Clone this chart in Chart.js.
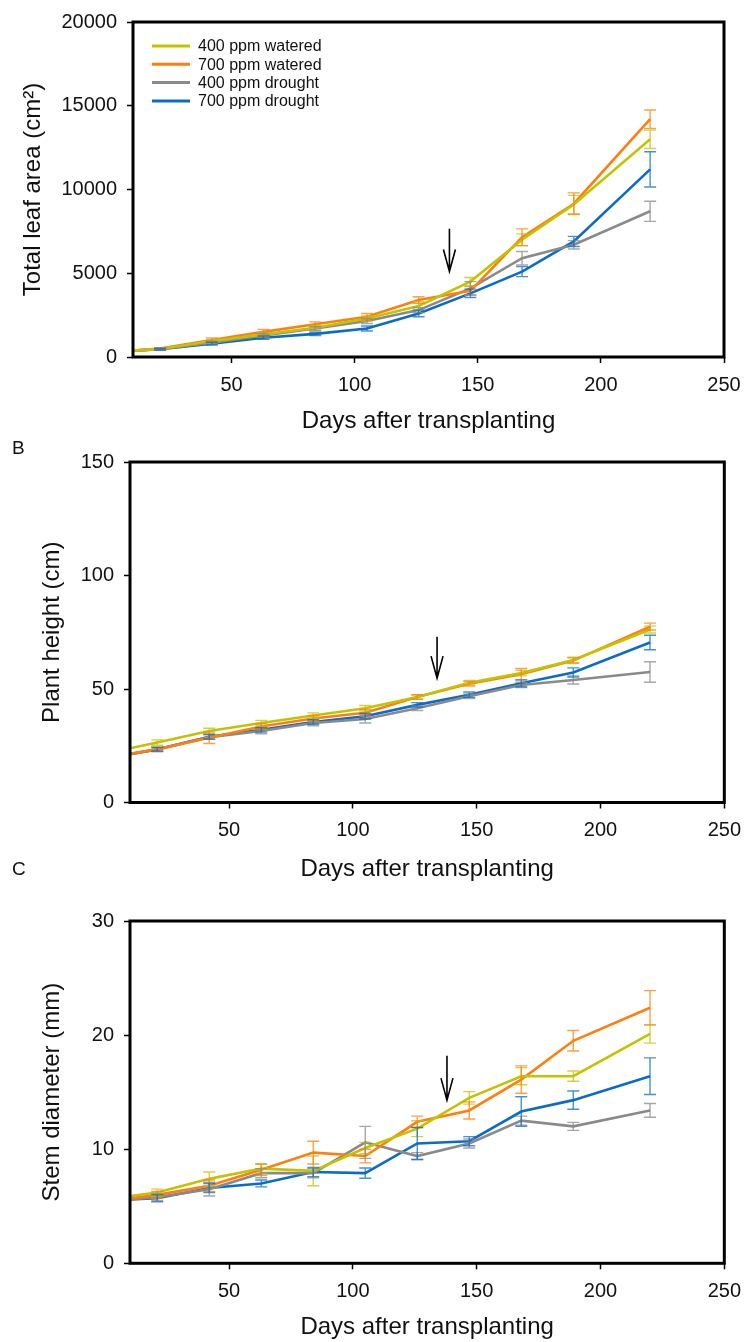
<!DOCTYPE html>
<html>
<head>
<meta charset="utf-8">
<script src="https://cdn.jsdelivr.net/npm/chart.js@4.4.0/dist/chart.umd.min.js"></script>
<style>
  html, body { margin: 0; padding: 0; background: #fff; }
  body { width: 751px; height: 1342px; position: relative; overflow: hidden;
         font-family: "Liberation Sans", Arial, sans-serif; }
  canvas { position: absolute; left: 0; }
  .tag { position: absolute; left: 12px; font-size: 19px; line-height: 1; color: #111; }
</style>
</head>
<body>
<canvas id="cA" width="751" height="440" style="top:0px"></canvas>
<canvas id="cB" width="751" height="448" style="top:440px"></canvas>
<canvas id="cC" width="751" height="462" style="top:880px"></canvas>
<div class="tag" style="top:438px">B</div>
<div class="tag" style="top:859px">C</div>

<script>
// Sampling days after transplanting
const days = [10, 21, 42, 63, 84, 105, 126, 147, 168, 189, 220];
const seriesNames = ['400 ppm watered', '700 ppm watered', '400 ppm drought', '700 ppm drought'];
const seriesColors = ['#c3c300', '#ff7f0e', '#8a8a8a', '#0a6cc8'];
const xTicks = [50, 100, 150, 200, 250];

// A: total leaf area (cm2), means and SE
const leaf400w = [380, 480, 950, 1350, 1750, 2300, 3050, 4500, 7000, 9100, 13000];
const leaf700w = [380, 500, 1020, 1500, 1950, 2400, 3400, 3950, 7150, 9150, 14200];
const leaf400d = [380, 470, 850, 1280, 1700, 2150, 2800, 4100, 5900, 6700, 8700];
const leaf700d = [380, 460, 800, 1150, 1380, 1700, 2600, 3800, 5100, 6900, 11200];
const leafErr400w = [0, 60, 100, 120, 150, 150, 250, 250, 350, 550, 550];
const leafErr700w = [0, 60, 120, 150, 150, 200, 200, 250, 500, 650, 550];
const leafErr400d = [0, 50, 100, 120, 120, 150, 150, 400, 400, 250, 600];
const leafErr700d = [0, 50, 80, 100, 100, 150, 200, 250, 300, 300, 1050];
const leafTicks = [0, 5000, 10000, 15000, 20000];

// B: plant height (cm)
const height400w = [23.9, 26.4, 31.5, 35.0, 38.3, 41.5, 46.5, 52.8, 57.0, 62.8, 76.2];
const height700w = [21.5, 23.5, 28.5, 33.5, 37.0, 39.5, 46.5, 52.3, 56.5, 62.5, 77.5];
const height400d = [21.3, 23.3, 28.8, 31.5, 35.0, 36.8, 41.5, 46.8, 51.8, 54.0, 57.5];
const height700d = [21.3, 23.5, 29.0, 32.0, 35.5, 38.0, 43.0, 47.5, 52.5, 57.3, 70.5];
const heightErr400w = [0, 1.2, 1.2, 1.2, 1.2, 1.2, 1.0, 1.0, 1.2, 1.2, 1.5];
const heightErr700w = [0, 1.0, 2.5, 1.2, 1.2, 1.5, 1.0, 1.0, 2.5, 1.2, 1.5];
const heightErr400d = [0, 0.8, 1.0, 1.2, 1.2, 1.8, 1.0, 1.0, 1.2, 1.8, 4.5];
const heightErr700d = [0, 0.8, 1.0, 1.0, 1.0, 1.2, 1.0, 1.2, 1.5, 2.0, 3.2];
const heightTicks = [0, 50, 100, 150];

// C: stem diameter (mm)
const stem400w = [5.9, 6.2, 7.4, 8.3, 8.1, 10.1, 11.8, 14.5, 16.4, 16.4, 20.1];
const stem700w = [5.7, 6.0, 6.8, 8.2, 9.7, 9.4, 12.4, 13.4, 16.1, 19.5, 22.4];
const stem400d = [5.6, 5.8, 6.5, 7.9, 7.9, 10.6, 9.4, 10.5, 12.5, 12.0, 13.4];
const stem700d = [5.6, 5.7, 6.6, 7.0, 8.0, 7.9, 10.5, 10.7, 13.3, 14.3, 16.4];
const stemErr400w = [0, 0.3, 0.6, 0.4, 1.3, 0.5, 0.7, 0.55, 0.75, 0.45, 0.8];
const stemErr700w = [0, 0.3, 0.5, 0.5, 1.0, 0.6, 0.5, 0.75, 1.2, 0.9, 1.5];
const stemErr400d = [0, 0.3, 0.6, 0.4, 0.4, 1.4, 0.3, 0.4, 0.4, 0.35, 0.6];
const stemErr700d = [0, 0.3, 0.4, 0.3, 0.4, 0.45, 1.4, 0.4, 1.3, 0.8, 1.6];
const stemTicks = [0, 10, 20, 30];

// Start of drought treatment marked by an arrow: [day, from, to]
const arrowLeaf = [138.5, 7650, 5100];
const arrowHeight = [134, 73, 54.8];
const arrowStem = [138, 18.2, 14.3];

const FONT = '"Liberation Sans", Arial, sans-serif';
const INK = '#111';

// Black frame around the plotting area
const frame = {
  id: 'frame',
  afterDraw(chart) {
    const a = chart.chartArea, c = chart.ctx;
    c.save();
    c.strokeStyle = '#000';
    c.lineWidth = 3;
    c.strokeRect(a.left, a.top, a.right - a.left, a.bottom - a.top);
    c.restore();
  }
};

// Standard-error bars with caps
const errorBars = {
  id: 'errorBars',
  afterDatasetsDraw(chart) {
    const { ctx, chartArea: a, scales: { x, y } } = chart;
    ctx.save();
    ctx.beginPath();
    ctx.rect(a.left + 2, a.top, a.right - a.left - 2, a.bottom - a.top);
    ctx.clip();
    chart.data.datasets.forEach(ds => {
      ctx.strokeStyle = ds.borderColor;
      ctx.globalAlpha = 0.75;
      ctx.lineWidth = 1.4;
      ds.data.forEach((p, j) => {
        const e = ds.err[j];
        if (!e) return;
        const px = x.getPixelForValue(p.x);
        const t = y.getPixelForValue(p.y + e);
        const b = y.getPixelForValue(p.y - e);
        ctx.beginPath();
        ctx.moveTo(px, t); ctx.lineTo(px, b);
        ctx.moveTo(px - 6, t); ctx.lineTo(px + 6, t);
        ctx.moveTo(px - 6, b); ctx.lineTo(px + 6, b);
        ctx.stroke();
      });
    });
    ctx.restore();
  }
};

// Downward arrow marking the onset of drought
const arrowMark = {
  id: 'arrowMark',
  afterDraw(chart, args, opts) {
    const { ctx, scales: { x, y } } = chart;
    const [day, from, to] = opts.at;
    const px = x.getPixelForValue(day);
    const y0 = y.getPixelForValue(from);
    const y1 = y.getPixelForValue(to);
    ctx.save();
    ctx.strokeStyle = '#000';
    ctx.lineWidth = 1.6;
    ctx.beginPath();
    ctx.moveTo(px, y0); ctx.lineTo(px, y1);
    ctx.moveTo(px - 6, y1 - 22); ctx.lineTo(px, y1); ctx.lineTo(px + 6, y1 - 22);
    ctx.stroke();
    ctx.restore();
  }
};

// Line-sample legend in the upper-left corner of the plot
const lineLegend = {
  id: 'lineLegend',
  afterDraw(chart) {
    const { ctx, chartArea: a } = chart;
    ctx.save();
    ctx.font = '16px ' + FONT;
    ctx.textBaseline = 'middle';
    ctx.fillStyle = INK;
    chart.data.datasets.forEach((ds, i) => {
      const yy = a.top + 24 + i * 18.3;
      ctx.strokeStyle = ds.borderColor;
      ctx.lineWidth = 3;
      ctx.beginPath();
      ctx.moveTo(a.left + 19, yy); ctx.lineTo(a.left + 57, yy);
      ctx.stroke();
      ctx.fillText(ds.label, a.left + 65, yy + 1);
    });
    ctx.restore();
  }
};

function makeChart(id, cfg) {
  const canvas = document.getElementById(id);
  const H = canvas.height;
  const datasets = cfg.values.map((v, i) => ({
    label: seriesNames[i],
    data: days.map((d, j) => ({ x: d, y: v[j] })),
    err: cfg.errors[i],
    borderColor: seriesColors[i],
    backgroundColor: seriesColors[i],
    borderWidth: 2.6,
    pointRadius: 0,
    tension: 0,
    fill: false
  }));
  const tickFont = { family: FONT, size: 20 };
  const titleFont = { family: FONT, size: 24 };
  const plugins = [frame, errorBars, arrowMark];
  if (cfg.legend) plugins.push(lineLegend);
  return new Chart(canvas, {
    type: 'line',
    data: { datasets },
    options: {
      responsive: false,
      animation: false,
      devicePixelRatio: 1,
      layout: { padding: { top: cfg.box.top, right: 751 - cfg.box.right, left: 0, bottom: 0 } },
      plugins: {
        legend: { display: false },
        tooltip: { enabled: false },
        arrowMark: { at: cfg.arrow }
      },
      scales: {
        x: {
          type: 'linear', min: 10, max: 250,
          afterBuildTicks: s => { s.ticks = xTicks.map(v => ({ value: v })); },
          afterFit: s => { s.height = H - cfg.box.bottom; },
          grid: { display: true, drawOnChartArea: false, drawTicks: true, tickLength: 6, tickColor: '#000', tickWidth: 1.5 },
          border: { display: false },
          ticks: { font: tickFont, color: INK, padding: 10, maxRotation: 0, autoSkip: false, callback: v => String(v) },
          title: { display: true, text: 'Days after transplanting', font: titleFont, color: INK, padding: { top: 0, bottom: cfg.xTitlePad } }
        },
        y: {
          type: 'linear', min: cfg.yTicks[0], max: cfg.yTicks[cfg.yTicks.length - 1],
          afterBuildTicks: s => { s.ticks = cfg.yTicks.map(v => ({ value: v })); },
          afterFit: s => { s.width = cfg.box.left; },
          grid: { display: true, drawOnChartArea: false, drawTicks: true, tickLength: 6, tickColor: '#000', tickWidth: 1.5 },
          border: { display: false },
          ticks: { font: tickFont, color: INK, padding: 10, autoSkip: false, callback: v => String(v) },
          title: { display: true, text: cfg.yTitle, font: titleFont, color: INK, padding: { top: cfg.yTitlePad, bottom: 0 } }
        }
      }
    },
    plugins
  });
}

makeChart('cA', {
  values: [leaf400w, leaf700w, leaf400d, leaf700d],
  errors: [leafErr400w, leafErr700w, leafErr400d, leafErr700d],
  yTicks: leafTicks,
  yTitle: 'Total leaf area (cm\u00B2)',
  yTitlePad: 19,
  xTitlePad: 4,
  box: { left: 133, right: 724, top: 18, bottom: 357 },
  arrow: arrowLeaf,
  legend: true
});

makeChart('cB', {
  values: [height400w, height700w, height400d, height700d],
  errors: [heightErr400w, heightErr700w, heightErr400d, heightErr700d],
  yTicks: heightTicks,
  yTitle: 'Plant height (cm)',
  yTitlePad: 38,
  xTitlePad: 4,
  box: { left: 130, right: 729, top: 19, bottom: 362.5 },
  arrow: arrowHeight
});

makeChart('cC', {
  values: [stem400w, stem700w, stem400d, stem700d],
  errors: [stemErr400w, stemErr700w, stemErr400d, stemErr700d],
  yTicks: stemTicks,
  yTitle: 'Stem diameter (mm)',
  yTitlePad: 38,
  xTitlePad: 0,
  box: { left: 130, right: 729, top: 41, bottom: 383.3 },
  arrow: arrowStem
});
</script>
</body>
</html>
